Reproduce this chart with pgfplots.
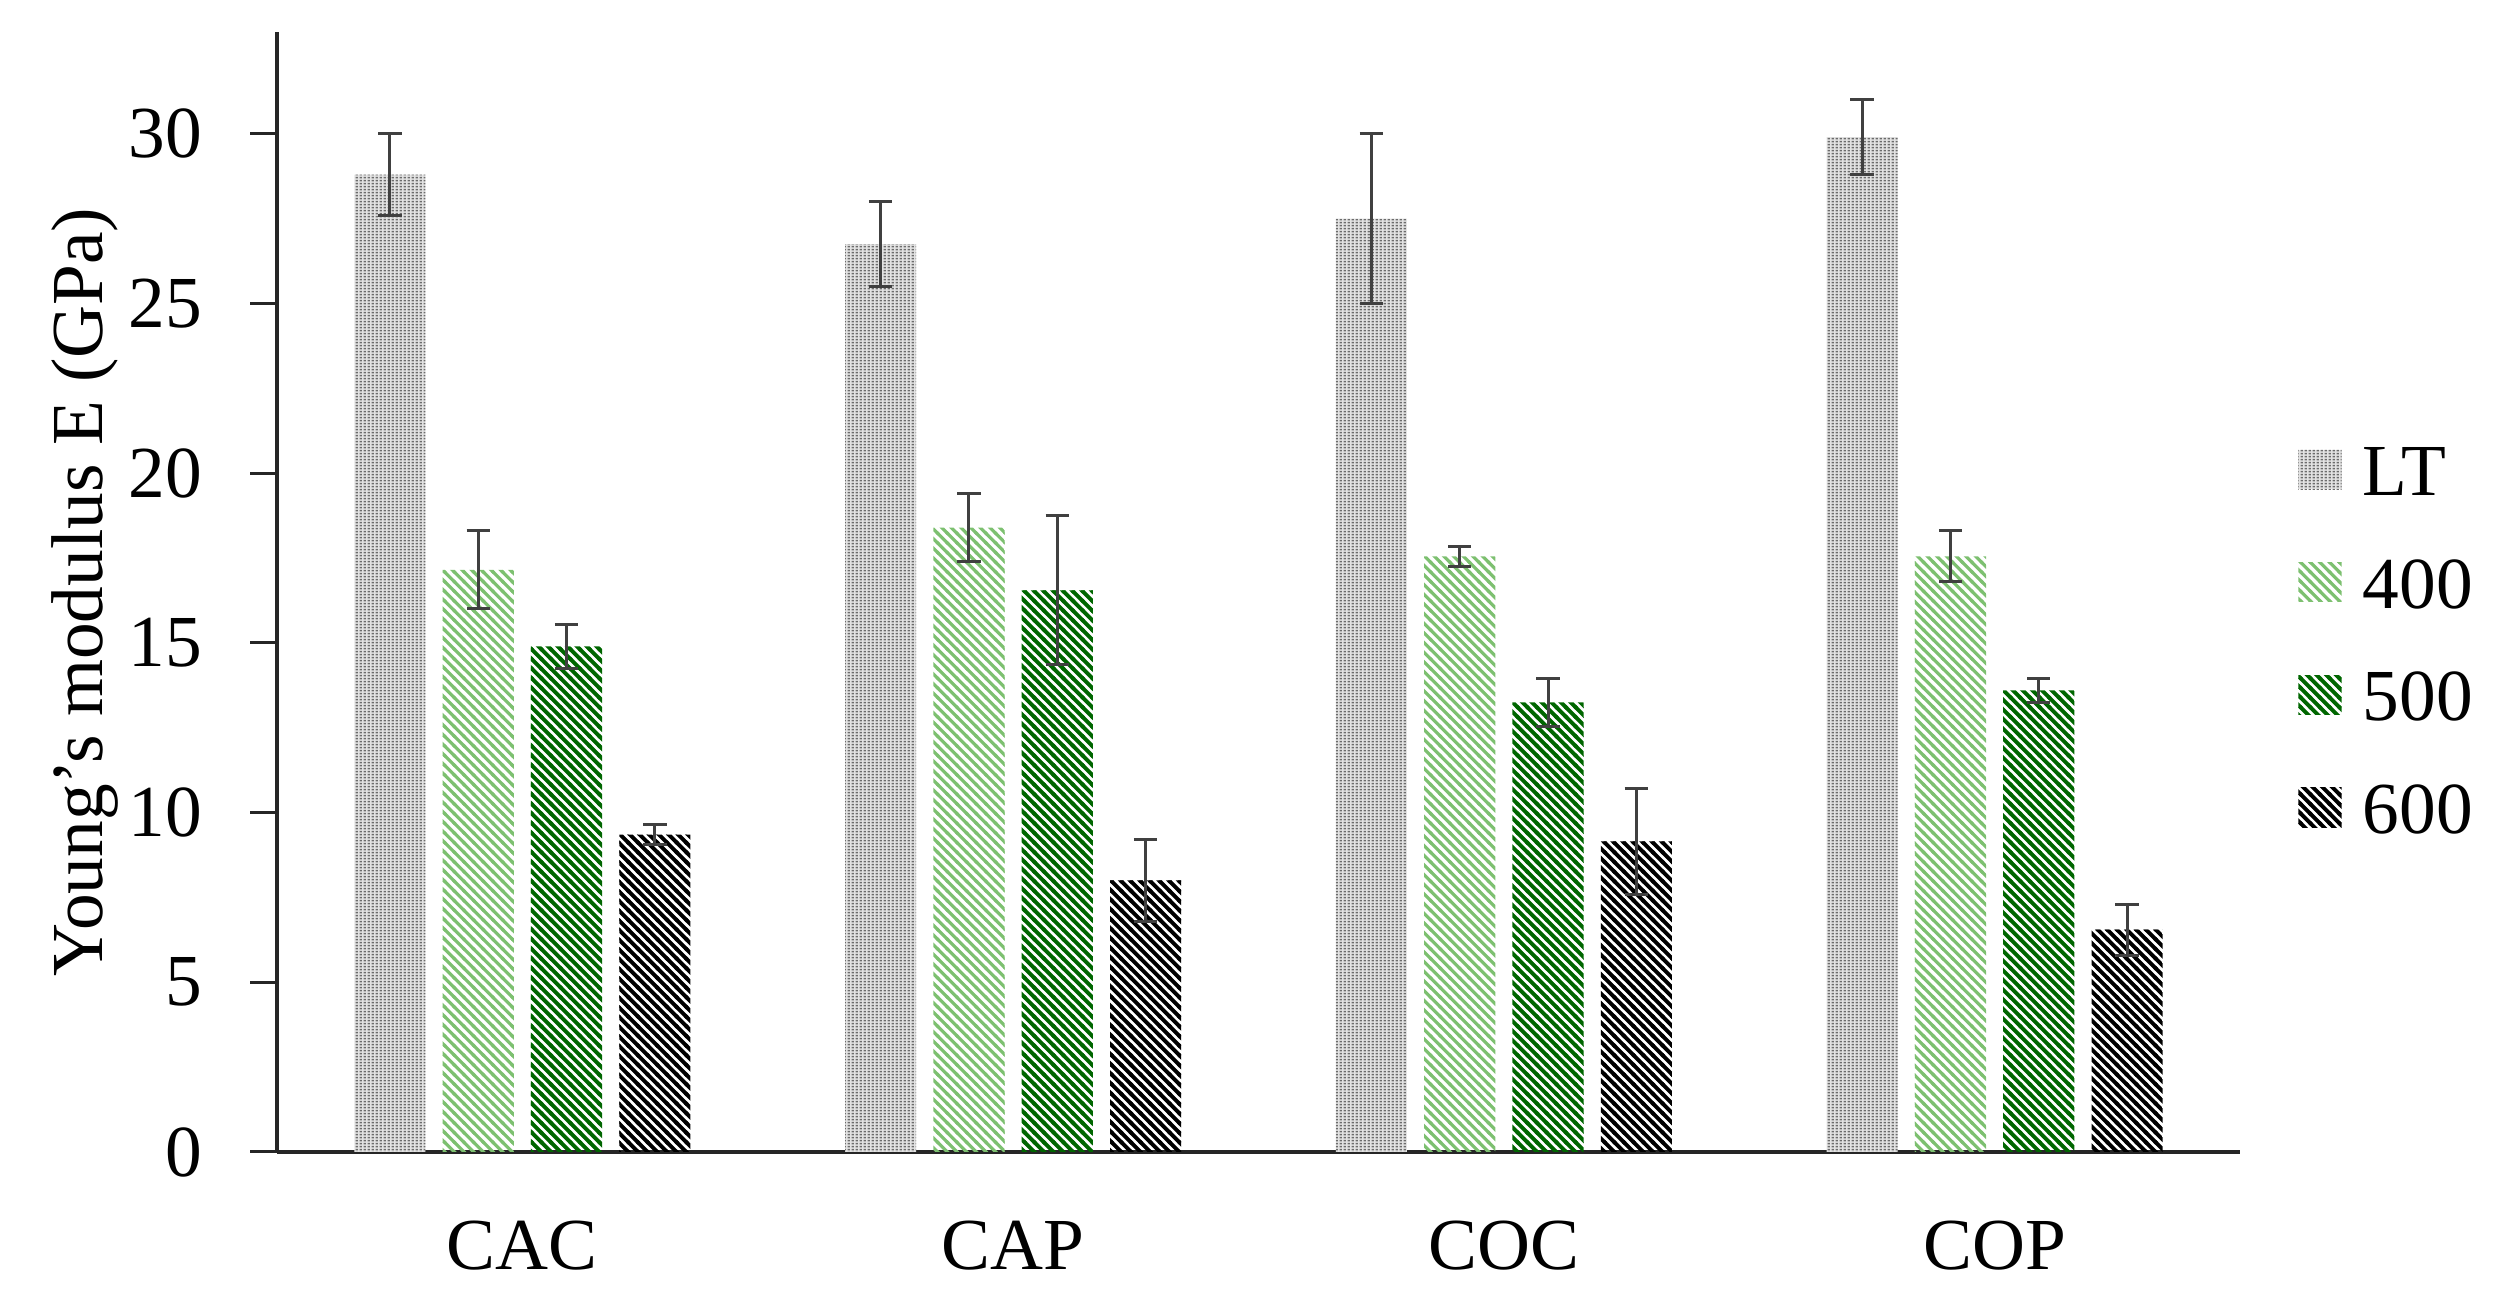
\documentclass[border=0pt]{standalone}
\usepackage{fontspec}
\setmainfont{Liberation Serif}
\usepackage{pgfplots}
\pgfplotsset{compat=1.18}
\usepackage{pgfplotstable}
\usetikzlibrary{patterns}

\definecolor{lgreen}{RGB}{125,192,112}
\definecolor{dgreen}{RGB}{0,102,0}
\definecolor{errc}{RGB}{64,64,64}

\pgfdeclarepatternformonly{nwthin}{\pgfqpoint{-0.5pt}{-0.5pt}}{\pgfqpoint{2.0pt}{2.0pt}}{\pgfqpoint{1.45pt}{1.45pt}}{%
  \pgfsetlinewidth{0.48pt}%
  \pgfpathmoveto{\pgfqpoint{-0.15pt}{1.6pt}}%
  \pgfpathlineto{\pgfqpoint{1.6pt}{-0.15pt}}%
  \pgfusepath{stroke}}
\pgfdeclarepatternformonly{nwthick}{\pgfqpoint{-0.5pt}{-0.5pt}}{\pgfqpoint{2.0pt}{2.0pt}}{\pgfqpoint{1.45pt}{1.45pt}}{%
  \pgfsetlinewidth{0.58pt}%
  \pgfpathmoveto{\pgfqpoint{-0.15pt}{1.6pt}}%
  \pgfpathlineto{\pgfqpoint{1.6pt}{-0.15pt}}%
  \pgfusepath{stroke}}
\pgfdeclarepatternformonly{ltdots}{\pgfqpoint{0pt}{0pt}}{\pgfqpoint{0.66pt}{0.5pt}}{\pgfqpoint{0.66pt}{0.5pt}}{%
  \pgfpathrectangle{\pgfqpoint{0.12pt}{0.1pt}}{\pgfqpoint{0.38pt}{0.28pt}}%
  \pgfusepath{fill}}

\pgfplotstableread{
x y e
0 28.8 1.2
1 26.75 1.25
2 27.5 2.5
3 29.9 1.1
}\tLT
\pgfplotstableread{
x y e
0 17.15 1.15
1 18.4 1.0
2 17.55 0.3
3 17.55 0.75
}\tFour
\pgfplotstableread{
x y e
0 14.9 0.65
1 16.55 2.2
2 13.25 0.7
3 13.6 0.35
}\tFive
\pgfplotstableread{
x y e
0 9.35 0.3
1 8.0 1.2
2 9.15 1.55
3 6.55 0.75
}\tSix

\begin{document}
\fontsize{11pt}{13pt}\selectfont
\begin{tikzpicture}
\path[use as bounding box] (-41.55pt,-21.75pt) rectangle (336.3pt,172.8pt);
\begin{axis}[
  at={(0pt,0pt)}, anchor=south west,
  scale only axis, width=294.45pt, height=168pt,
  xmin=-0.5, xmax=3.5, ymin=0, ymax=33,
  axis x line*=bottom, axis y line*=left,
  axis line style={line width=0.6pt, black!85},
  ybar, bar width=0.145,
  xtick={0,1,2,3}, xticklabels={CAC,CAP,COC,COP},
  xtick style={draw=none},
  ytick={0,5,10,15,20,25,30},
  tick align=outside, major tick length=4pt,
  ytick style={line width=0.45pt, black!85},
  /pgf/number format/assume math mode=true,
  xticklabel style={yshift=-2.5pt},
  yticklabel style={xshift=-3.4pt},
  ylabel={Young's modulus E (GPa)},
  ylabel style={at={(axis description cs:-0.0978,0.5)}, anchor=center},
  legend style={at={(axis description cs:1.029,0.457)}, anchor=west,
    draw=none, fill=none, inner sep=0pt, row sep=9.6pt,
    nodes={inner sep=0pt, inner xsep=3.2pt, text height=7.3pt, text depth=0pt}},
  legend cell align=left,
  legend image code/.code={%
    \path[#1,draw=none] (0pt,-2.7pt) rectangle (6.5pt,3.2pt);},
  error bars/y dir=both, error bars/y explicit,
  error bars/error bar style={line width=0.45pt, errc, draw=errc},
  error bars/error mark options={rotate=90, mark size=1.75pt, line width=0.45pt, errc},
]
\addplot[draw=none, fill=gray!22, postaction={pattern=ltdots, pattern color=gray!85!black}, bar shift=-0.27]
  table[x=x, y=y, y error=e]{\tLT};
\addplot[draw=none, pattern=nwthin, pattern color=lgreen, bar shift=-0.09]
  table[x=x, y=y, y error=e]{\tFour};
\addplot[draw=none, pattern=nwthick, pattern color=dgreen, bar shift=0.09]
  table[x=x, y=y, y error=e]{\tFive};
\addplot[draw=none, pattern=nwthick, pattern color=black, bar shift=0.27]
  table[x=x, y=y, y error=e]{\tSix};
\legend{LT,400,500,600}
\end{axis}
\end{tikzpicture}
\end{document}
